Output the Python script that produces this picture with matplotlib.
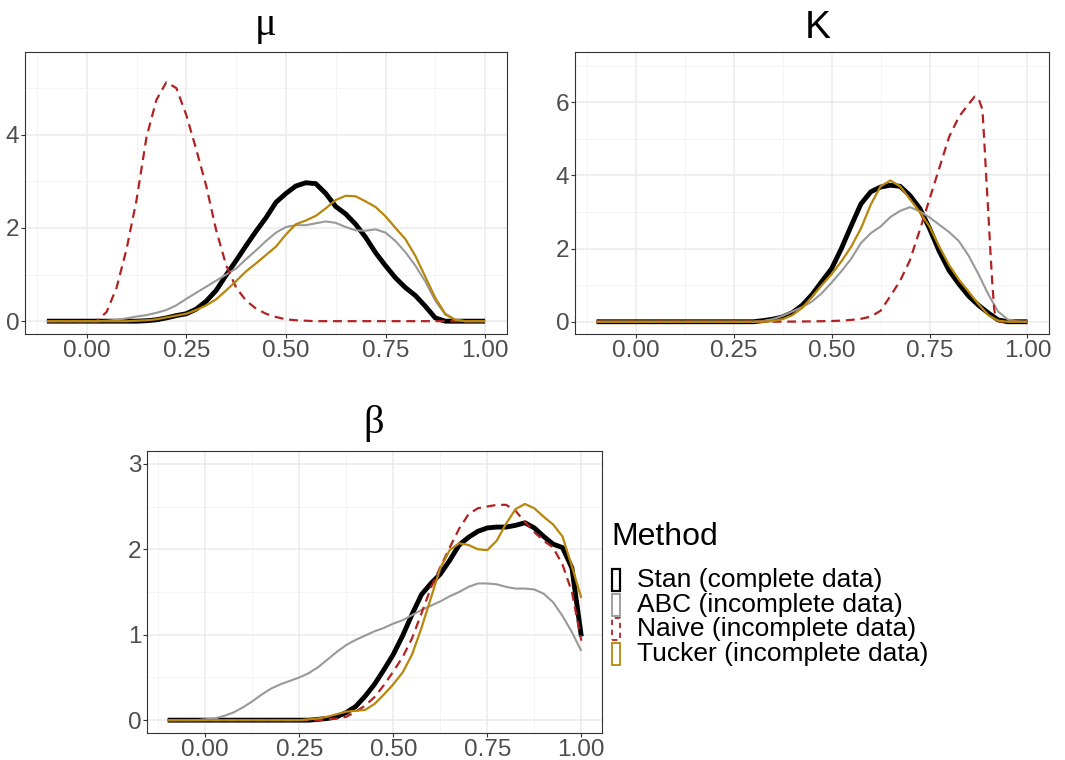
import numpy as np
import matplotlib
matplotlib.use('Agg')
import matplotlib.pyplot as plt
from matplotlib.patches import Rectangle

plt.rcParams['font.family'] = ['Liberation Sans', 'DejaVu Sans']

W, H = 1065, 760

# common evaluation grid of the densities
x_grid = np.round(np.arange(-0.1, 1.0001, 0.025), 3)

methods = ['Stan (complete data)', 'ABC (incomplete data)',
           'Naive (incomplete data)', 'Tucker (incomplete data)']
colors = ['black', '#999999', '#B22222', '#B8860B']
widths = [3.5, 1.5, 1.6, 1.6]
styles = ['-', '-', (0, (4, 2.6)), '-']

xtick_vals = [0.0, 0.25, 0.5, 0.75, 1.0]
xtick_labels = ['0.00', '0.25', '0.50', '0.75', '1.00']

# mu
mu_stan = [0, 0, 0, 0, 0, 0, 0, 0, 0, 0,
           0.01, 0.03, 0.07, 0.12, 0.16, 0.26, 0.43, 0.66, 0.99, 1.3,
           1.62, 1.93, 2.22, 2.55, 2.74, 2.9, 2.97, 2.95, 2.74, 2.46,
           2.3, 2.08, 1.8, 1.47, 1.19, 0.93, 0.72, 0.55, 0.32, 0.07,
           0, 0, 0, 0, 0]
mu_abc = [0, 0, 0, 0, 0, 0,
          0.01, 0.03, 0.06, 0.1, 0.13, 0.18, 0.24, 0.34, 0.48, 0.61,
          0.74, 0.87, 1.0, 1.13, 1.33, 1.52, 1.72, 1.9, 2.02, 2.06,
          2.06, 2.1, 2.14, 2.11, 2.02, 1.95, 1.94, 1.97, 1.9, 1.72,
          1.48, 1.19, 0.85, 0.44, 0.14, 0.03,
          0, 0, 0]
mu_naive = [0, 0, 0, 0, 0, 0,
            0.2, 0.72, 1.55, 2.6, 3.95, 4.75, 5.13, 5.0, 4.42, 3.68,
            2.9, 1.95, 1.2, 0.72, 0.44, 0.27, 0.16, 0.09, 0.04, 0.02,
            0.01,
            0, 0, 0, 0, 0, 0, 0, 0, 0, 0, 0, 0, 0, 0, 0, 0, 0, 0]
mu_tucker = [0, 0, 0, 0, 0, 0, 0, 0, 0,
             0.01, 0.02, 0.04, 0.08, 0.12, 0.16, 0.24, 0.34, 0.47, 0.66,
             0.86, 1.07, 1.24, 1.42, 1.6, 1.86, 2.08, 2.16, 2.26, 2.42,
             2.6, 2.69, 2.68, 2.57, 2.45, 2.25, 2.0, 1.76, 1.4, 0.95,
             0.5, 0.16, 0.03,
             0, 0, 0]

# K
k_stan = [0] * 17 + [
    0.03, 0.07, 0.13, 0.25, 0.45, 0.74, 1.1, 1.45, 2.0, 2.62,
    3.22, 3.55, 3.68, 3.73, 3.7, 3.45, 3.1, 2.55, 1.92, 1.4,
    1.03, 0.7, 0.45, 0.24, 0.05, 0, 0, 0]
k_abc = [0] * 17 + [
    0.02, 0.07, 0.16, 0.28, 0.4, 0.55, 0.78, 1.07, 1.38, 1.72,
    2.15, 2.42, 2.6, 2.86, 3.03, 3.13, 3.02, 2.85, 2.65, 2.45,
    2.2, 1.8, 1.3, 0.75, 0.28, 0.06, 0.01, 0]
k_tucker = [0] * 18 + [
    0.02, 0.07, 0.18, 0.38, 0.68, 1.0, 1.3, 1.65, 2.05, 2.55,
    3.2, 3.7, 3.86, 3.7, 3.35, 3.0, 2.6, 2.05, 1.55, 1.15,
    0.82, 0.48, 0.18, 0.03, 0, 0, 0]
k_naive_x = [-0.1, 0.35, 0.4, 0.45, 0.5, 0.525, 0.55, 0.575, 0.6, 0.625,
             0.65, 0.675, 0.7, 0.725, 0.75, 0.775, 0.8, 0.825, 0.85, 0.865,
             0.875, 0.885, 0.89, 0.895, 0.9, 0.905, 0.91, 0.915, 0.92, 0.93,
             1.0]
k_naive = [0, 0, 0.005, 0.01, 0.02, 0.03, 0.05, 0.08, 0.14, 0.3,
           0.7, 1.12, 1.68, 2.5, 3.35, 4.2, 5.05, 5.6, 5.95, 6.15,
           6.1, 5.8, 4.9, 3.9, 3.0, 2.0, 1.1, 0.35, 0.05, 0,
           0]

# beta
b_stan = [0] * 16 + [
    0.01, 0.02, 0.04, 0.09, 0.16, 0.28, 0.42, 0.59, 0.77, 0.99,
    1.24, 1.47, 1.6, 1.71, 1.87, 2.05, 2.14, 2.21, 2.25, 2.26,
    2.26, 2.28, 2.31, 2.25, 2.15, 2.06, 2.02, 1.78, 0.98]
b_abc = [0] * 4 + [
    0.01, 0.02, 0.05, 0.09, 0.15, 0.22, 0.3, 0.37, 0.42, 0.46,
    0.5, 0.55, 0.62, 0.71, 0.8, 0.88, 0.94, 0.99, 1.04, 1.08,
    1.13, 1.17, 1.23, 1.29, 1.34, 1.39, 1.45, 1.5, 1.56, 1.6,
    1.6, 1.59, 1.56, 1.54, 1.54, 1.53, 1.48, 1.38, 1.22, 1.03,
    0.81]
b_naive = [0] * 17 + [
    0.01, 0.02, 0.04, 0.1, 0.17, 0.27, 0.41, 0.57, 0.74, 0.96,
    1.25, 1.55, 1.79, 2.02, 2.24, 2.41, 2.48, 2.5, 2.52, 2.52,
    2.45, 2.32, 2.2, 2.1, 2.02, 1.82, 1.5, 0.93]
b_tucker = [0] * 15 + [
    0.01, 0.02, 0.04, 0.07, 0.1, 0.11, 0.12, 0.19, 0.3, 0.42,
    0.56, 0.77, 1.08, 1.43, 1.78, 1.99, 2.07, 2.05, 2.0, 1.99,
    2.1, 2.3, 2.47, 2.53, 2.48, 2.38, 2.29, 2.15, 1.8, 1.43]


def px_axes(fig, left, top, right, bottom):
    return fig.add_axes([left / W, 1 - bottom / H,
                         (right - left) / W, (bottom - top) / H])


def style_axes(ax, ylim, yticks, yminor):
    ax.set_xlim(-0.155, 1.055)
    ax.set_ylim(*ylim)
    ax.set_xticks(xtick_vals, labels=xtick_labels)
    ax.set_xticks([-0.125, 0.125, 0.375, 0.625, 0.875], minor=True)
    ax.set_yticks(yticks, labels=[str(t) for t in yticks])
    ax.set_yticks(yminor, minor=True)
    ax.grid(which='major', color='#EBEBEB', linewidth=1.1)
    ax.grid(which='minor', color='#F2F2F2', linewidth=0.6)
    ax.set_axisbelow(True)
    ax.tick_params(which='minor', length=0)
    ax.tick_params(which='major', length=3, width=0.8, color='#333333',
                   labelcolor='#4D4D4D', labelsize=17.5, pad=1)
    for sp in ax.spines.values():
        sp.set_color('#333333')
        sp.set_linewidth(0.8)


def draw(ax, series):
    for (xs, ys), c, lw, ls in zip(series, colors, widths, styles):
        ax.plot(xs, ys, color=c, linewidth=lw, linestyle=ls,
                solid_joinstyle='round', solid_capstyle='butt')


fig = plt.figure(figsize=(W / 100, H / 100), dpi=100)

ax1 = px_axes(fig, 25, 52, 507, 334)
draw(ax1, [(x_grid, mu_stan), (x_grid, mu_abc),
           (x_grid, mu_naive), (x_grid, mu_tucker)])
style_axes(ax1, (-0.275, 5.775), [0, 2, 4], [1, 3, 5])

ax2 = px_axes(fig, 575, 52, 1049, 334)
draw(ax2, [(x_grid, k_stan), (x_grid, k_abc),
           (k_naive_x, k_naive), (x_grid, k_tucker)])
style_axes(ax2, (-0.335, 7.37), [0, 2, 4, 6], [1, 3, 5, 7])

ax3 = px_axes(fig, 147, 451, 602, 733)
draw(ax3, [(x_grid, b_stan), (x_grid, b_abc),
           (x_grid, b_naive), (x_grid, b_tucker)])
style_axes(ax3, (-0.15, 3.15), [0, 1, 2, 3], [0.5, 1.5, 2.5])

# panel titles
fig.text(266 / W, 1 - 26 / H, '\u03bc', ha='center', va='center',
         fontsize=29, family=['Liberation Serif', 'DejaVu Serif'])
fig.text(818 / W, 1 - 28 / H, 'K', ha='center', va='center', fontsize=28)
fig.text(374 / W, 1 - 423 / H, '\u03b2', ha='center', va='center',
         fontsize=29, family=['Liberation Serif', 'DejaVu Serif'])

# legend
fig.text(611 / W, 1 - 537 / H, 'Method', ha='left', va='center', fontsize=23)
key_lw = [1.6, 1.3, 1.3, 1.3]
key_ls = ['-', '-', (0, (3, 2.5)), '-']
for i, (m, c) in enumerate(zip(methods, colors)):
    yc = 580 + 24.6 * i
    fig.add_artist(Rectangle((612 / W, 1 - (yc + 11) / H), 8 / W, 22 / H,
                             transform=fig.transFigure, facecolor='none',
                             edgecolor=c, linewidth=key_lw[i],
                             linestyle=key_ls[i]))
    fig.text(637 / W, 1 - yc / H, m, ha='left', va='center', fontsize=19)

fig.savefig('out.png', dpi=100)
